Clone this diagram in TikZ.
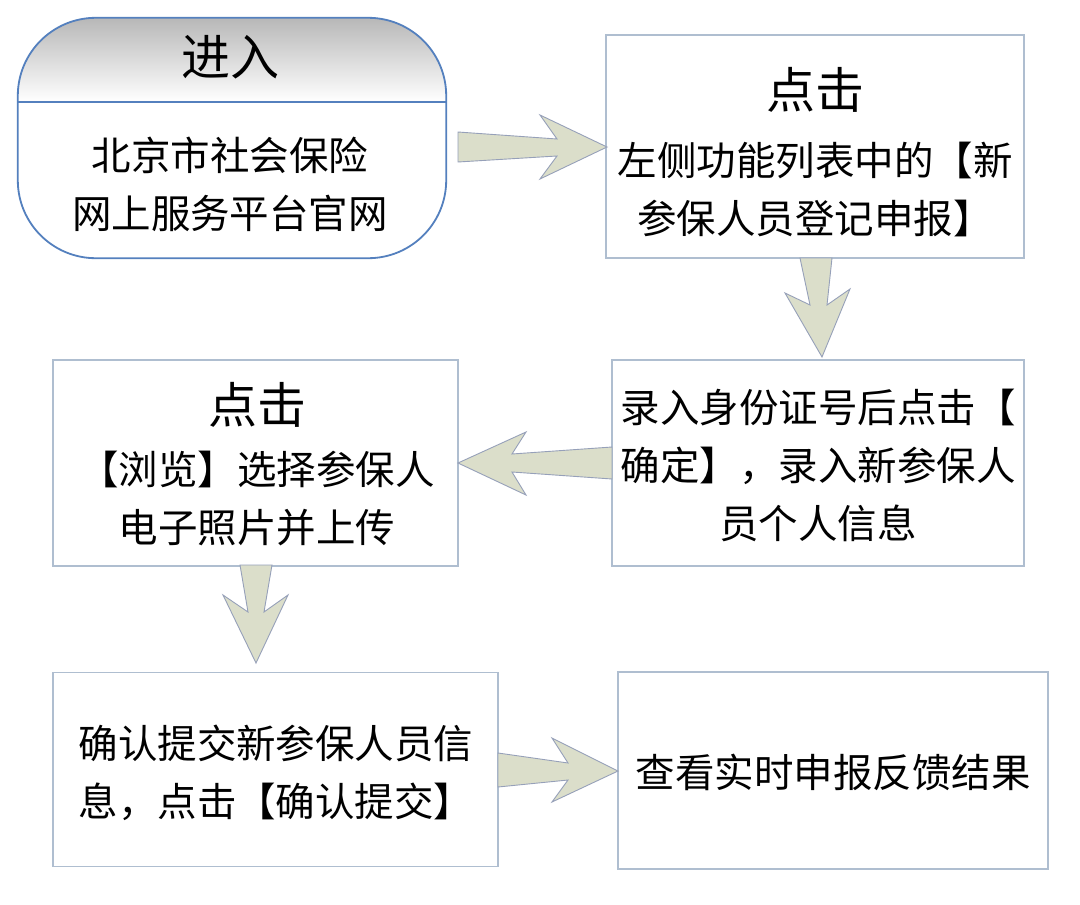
\documentclass[tikz,border=0pt]{standalone}
\usepackage{fontspec}
\setmainfont{Noto Sans CJK SC}
\definecolor{boxline}{RGB}{175,190,208}
\definecolor{roundline}{RGB}{84,128,190}
\definecolor{arrowfill}{RGB}{219,222,202}
\definecolor{arrowline}{RGB}{150,160,185}
\tikzset{
  plainbox/.style={draw=boxline, line width=1.6pt, fill=white, inner sep=0pt},
  bodytext/.style={align=center, font=\fontsize{39.5}{58}\selectfont, inner sep=0pt},
  headtext/.style={font=\fontsize{49}{52}\selectfont, inner sep=0pt},
  blockarrow/.style={fill=arrowfill, draw=arrowline, line width=0.9pt, line join=miter}
}
\begin{document}
\begin{tikzpicture}[x=1pt,y=-1pt]
\useasboundingbox (0,0) rectangle (1080,905);
\fill[white] (0,0) rectangle (1080,905);

% box 1 (rounded)
\node[inner sep=0pt, minimum width=428pt, minimum height=240pt] (b1) at (232,138) {};
\begin{scope}
  \clip[rounded corners=78pt] (b1.north west) rectangle (b1.south east);
  \shade[top color=black!28, bottom color=white] (b1.north west) rectangle ([yshift=-84pt]b1.north east);
\end{scope}
\draw[roundline, line width=1.8pt, rounded corners=78pt] (b1.north west) rectangle (b1.south east);
\coordinate (d1) at ([yshift=-84pt]b1.north west);
\coordinate (d2) at ([yshift=-84pt]b1.north east);
\draw[roundline, line width=1.8pt] (d1) -- (d2);
\node[headtext] (h1) at (230,57) {进入};
\node[bodytext] (t1) at (230,184) {北京市社会保险\\网上服务平台官网};

% box 2
\node[plainbox, minimum width=418pt, minimum height=223pt] (b2) at (815,146.5) {};
\node[headtext] (h2) at (815,90) {点击};
\node[bodytext] (t2) at (815,189) {左侧功能列表中的【新\\参保人员登记申报】};

% box 3
\node[plainbox, minimum width=412pt, minimum height=206pt] (b3) at (818,463) {};
\node[bodytext] (t3) at (818,465) {录入身份证号后点击【\\确定】，录入新参保人\\员个人信息};

% box 4
\node[plainbox, minimum width=405pt, minimum height=206pt] (b4) at (255.5,463) {};
\node[headtext] (h4) at (257,405) {点击};
\node[bodytext] (t4) at (257,499) {【浏览】选择参保人\\电子照片并上传};

% box 5
\node[plainbox, minimum width=445pt, minimum height=194pt] (b5) at (275.5,769.5) {};
\node[bodytext] (t5) at (276,773) {确认提交新参保人员信\\息，点击【确认提交】};

% box 6
\node[plainbox, minimum width=430pt, minimum height=197pt] (b6) at (833,770.5) {};
\node[bodytext] (t6) at (833,772) {查看实时申报反馈结果};

% block arrows
\draw[blockarrow] (458,132) -- (557,139) -- (540,115) -- (607,147) -- (540,179) -- (557,156) -- (458,162) -- cycle;
\draw[blockarrow] (800,258) -- (832,258) -- (827,305) -- (850,289) -- (822,357) -- (785,293) -- (810,305) -- cycle;
\draw[blockarrow] (612,447) -- (512,454) -- (526,432) -- (458,463) -- (526,495) -- (512,472) -- (612,479) -- cycle;
\draw[blockarrow] (240,565) -- (272,565) -- (264,612) -- (288,595) -- (256,663) -- (223,595) -- (248,612) -- cycle;
\draw[blockarrow] (498,753) -- (568,763) -- (552,738) -- (618,771) -- (552,802) -- (568,780) -- (498,787) -- cycle;
\end{tikzpicture}
\end{document}
